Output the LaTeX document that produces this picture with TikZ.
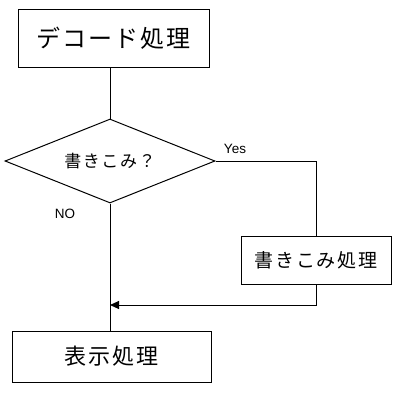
\documentclass[tikz,border=0pt]{standalone}
\usepackage{fontspec}
\setmainfont{Liberation Sans}
\newfontfamily\jp[LetterSpace=9]{Noto Sans CJK JP}
\usetikzlibrary{shapes.geometric,arrows.meta}
\begin{document}
\begin{tikzpicture}[x=1pt,y=-1pt,
  line/.style={draw=black,line width=1pt},
  boxnode/.style={draw=black,line width=1pt,rectangle,inner sep=0pt,font=\jp},
  decis/.style={draw=black,line width=1pt,diamond,aspect=2.5,inner sep=0pt,minimum width=210pt,minimum height=84pt,font=\jp},
  lbl/.style={font=\fontsize{13.5}{15}\selectfont,inner sep=0pt},
  tri/.style={-{Triangle[length=9pt,width=8pt]}}]
\useasboundingbox (0,0) rectangle (400,400);
\fill[white] (0,0) rectangle (400,400);
\node[boxnode,minimum width=191pt,minimum height=58pt,font=\jp\fontsize{24}{26}\selectfont] (dec) at (113.5,38) {デコード処理};
\node[decis,font=\jp\fontsize{17}{19}\selectfont] (dia) at (110,161) {書きこみ？};
\node[boxnode,minimum width=150pt,minimum height=48pt,font=\jp\fontsize{19}{21}\selectfont] (wb) at (316,260) {書きこみ処理};
\node[boxnode,minimum width=199pt,minimum height=51pt,font=\jp\fontsize{22}{24}\selectfont] (disp) at (111.5,356.5) {表示処理};
\node[lbl] (yes) at (235,149) {Yes};
\node[lbl] (no) at (65,213.5) {NO};
\coordinate (m) at (110,305);
\draw[line] (dia.north) -- (dia.north |- dec.south);
\draw[line] (dia.east) -| (wb.north);
\draw[line,tri] (wb.south) |- (m);
\draw[line] (dia.south) -- (dia.south |- disp.north);
\end{tikzpicture}
\end{document}
